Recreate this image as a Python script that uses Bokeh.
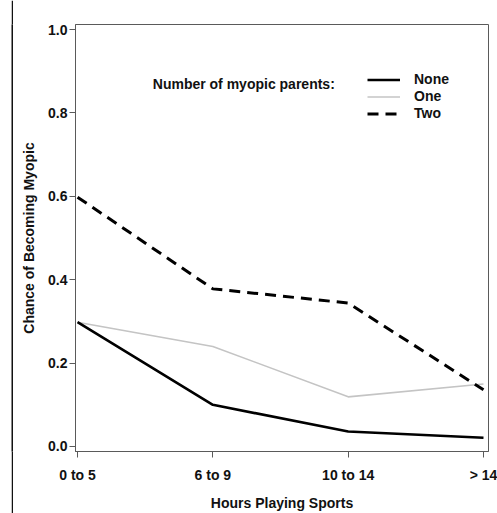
import numpy as np
from bokeh.plotting import figure
from bokeh.models import (Range1d, FixedTicker, Legend, LegendItem, Label,
                          NumeralTickFormatter)
from bokeh.layouts import row, Spacer
from bokeh.embed import file_html
from bokeh.resources import INLINE

# ---- data ----
categories = ["0 to 5", "6 to 9", "10 to 14", "> 14"]
none_parents = [0.298, 0.100, 0.036, 0.021]
one_parent = [0.298, 0.240, 0.119, 0.150]
two_parents = [0.598, 0.378, 0.344, 0.136]
y_ticks = [0.0, 0.2, 0.4, 0.6, 0.8, 1.0]
legend_title = "Number of myopic parents:"
series_names = ["None", "One", "Two"]

x = list(range(len(categories)))
FONT = "Liberation Sans"
AXC = "#5a5a5a"

p = figure(width=484, height=513, output_backend="svg", toolbar_location=None,
           x_range=Range1d(-0.015, 3.037), y_range=Range1d(-0.012, 1.012),
           min_border_left=62, min_border_right=9, min_border_top=24,
           min_border_bottom=60)
p.background_fill_color = "white"
p.border_fill_color = "white"
p.outline_line_color = AXC
p.outline_line_width = 1
p.grid.visible = False

r_one = p.line(x, one_parent, line_color="#c4c4c4", line_width=1.6)
r_none = p.line(x, none_parents, line_color="black", line_width=2.6)
r_two = p.line(x, two_parents, line_color="black", line_width=3, line_dash="11 7")

# axes
p.xaxis.ticker = FixedTicker(ticks=x)
p.xaxis.major_label_overrides = {i: c for i, c in zip(x, categories)}
p.yaxis.ticker = FixedTicker(ticks=y_ticks)
p.yaxis.formatter = NumeralTickFormatter(format="0.0")
p.xaxis.axis_label = "Hours Playing Sports"
p.yaxis.axis_label = "Chance of Becoming Myopic"
for ax in (p.xaxis, p.yaxis):
    ax.axis_line_color = AXC
    ax.major_tick_line_color = AXC
    ax.minor_tick_line_color = None
    ax.major_tick_in = 0
    ax.major_tick_out = 6
    ax.major_label_text_font = FONT
    ax.major_label_text_font_style = "bold"
    ax.major_label_text_font_size = "14px"
    ax.major_label_text_color = "#111111"
    ax.axis_label_text_font = FONT
    ax.axis_label_text_font_style = "bold"
    ax.axis_label_text_font_size = "14px"
    ax.axis_label_text_color = "#111111"
p.xaxis.major_label_standoff = 9
p.xaxis.axis_label_standoff = 9
p.yaxis.major_label_standoff = 2
p.yaxis.axis_label_standoff = 8

# legend
legend = Legend(items=[LegendItem(label=series_names[0], renderers=[r_none]),
                       LegendItem(label=series_names[1], renderers=[r_one]),
                       LegendItem(label=series_names[2], renderers=[r_two])],
                location=(292, 330), orientation="vertical",
                border_line_color=None, background_fill_alpha=0,
                padding=0, margin=0, spacing=1, glyph_width=33, glyph_height=15,
                label_height=15, label_standoff=14,
                label_text_font=FONT, label_text_font_style="bold",
                label_text_font_size="14px", label_text_color="#111111")
p.add_layout(legend)

p.add_layout(Label(x=0.556, y=0.869, text=legend_title, text_font=FONT,
                   text_font_style="bold", text_font_size="14px",
                   text_color="#111111", text_baseline="middle"))

# scanned page edge: white gap then a thin black strip
edge = figure(width=2, height=513, output_backend="svg", toolbar_location=None,
              x_range=Range1d(0, 1), y_range=Range1d(0, 1),
              min_border_left=0, min_border_right=0, min_border_top=0,
              min_border_bottom=0)
edge.axis.visible = False
edge.grid.visible = False
edge.outline_line_color = None
edge.background_fill_color = "#111111"
edge.border_fill_color = "#111111"

layout = row(Spacer(width=11, height=513), edge, p, spacing=0)
open("out.html", "w").write(file_html(layout, INLINE))
